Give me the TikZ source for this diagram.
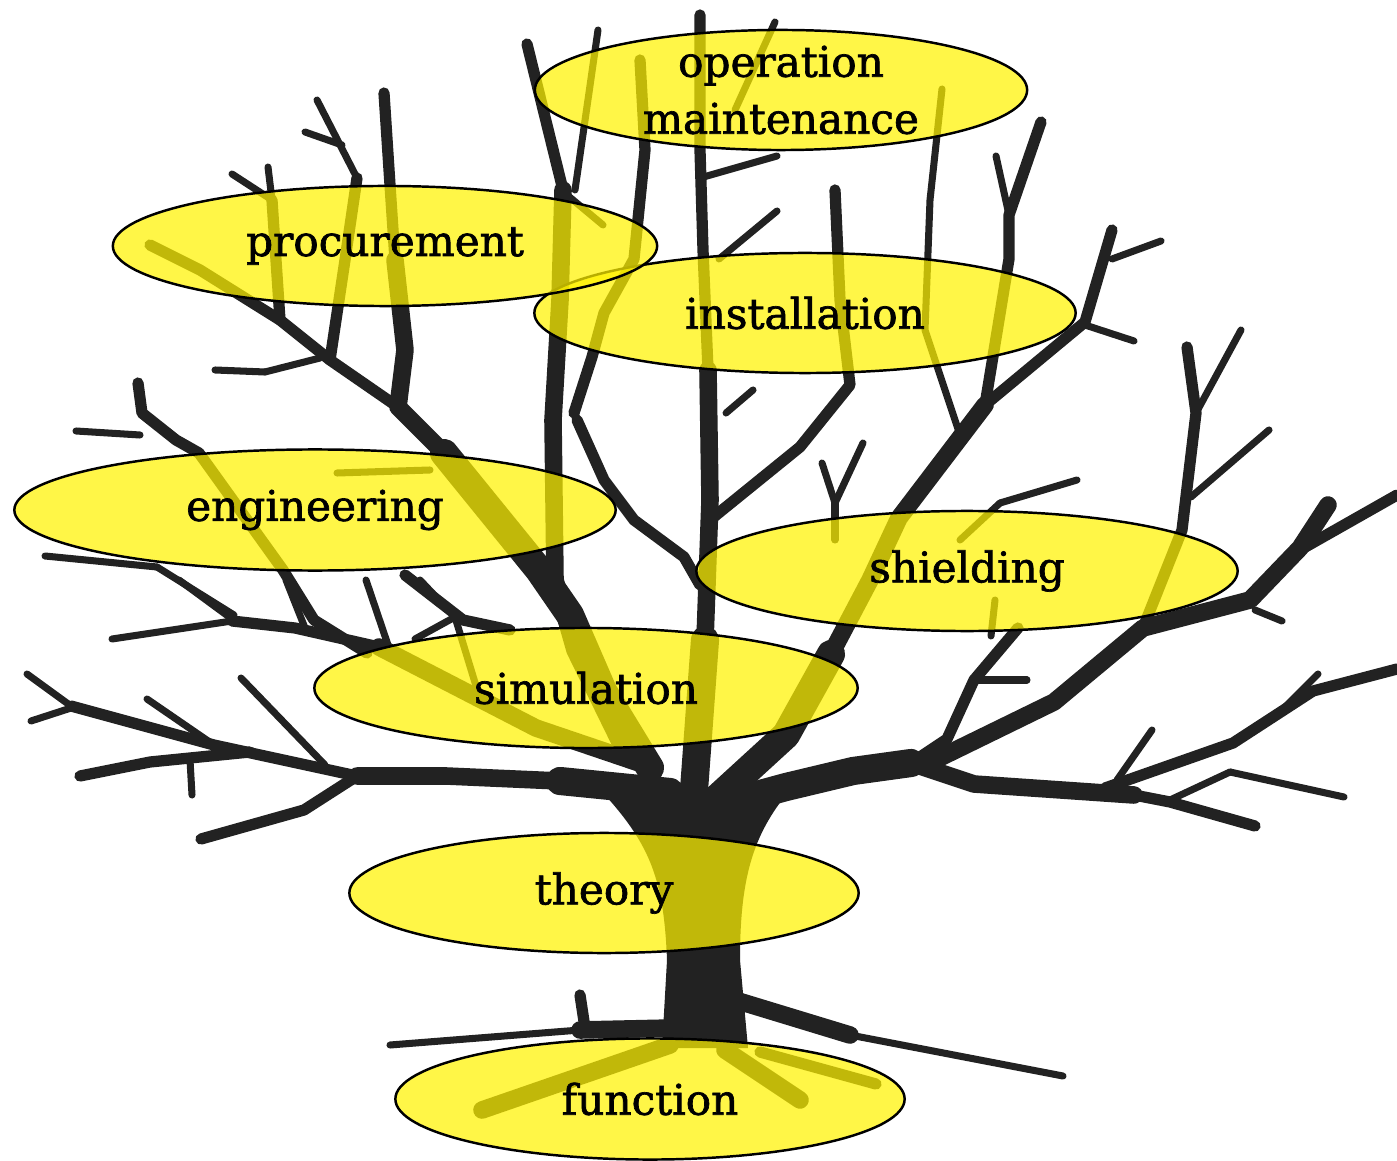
\documentclass[tikz,border=0pt]{standalone}
\usepackage{fontspec}
\setmainfont{DejaVu Serif}
\newfontfamily\topicfam[FakeBold=1.6]{DejaVu Serif}
\usetikzlibrary{shapes.geometric}
\definecolor{bark}{HTML}{222222}
\newcommand\topicfont{\topicfam\fontsize{12}{16.2}\selectfont}

\begin{document}
\begin{tikzpicture}[x=0.01cm, y=-0.01cm,
    wood/.style={draw=bark, line cap=round, line join=round},
    limb/.style={wood, line width=8pt},
    bough/.style={wood, line width=5pt},
    branch/.style={wood, line width=3.2pt},
    twig/.style={wood, line width=2pt},
    topic/.style={ellipse, draw=black, line width=0.7pt, fill=yellow, fill opacity=0.72,
        text opacity=1, inner sep=0pt, minimum height=1.2cm, font=\topicfont}]
    \useasboundingbox (0,0) rectangle (1397,1161);

    % trunk and roots
    \fill[bark] (662,1048) -- (667,960) .. controls (664,880) and (650,845) .. (605,795)
        -- (790,790) .. controls (752,835) and (740,880) .. (740,960) -- (748,1048) -- cycle;
    \draw[bough] (672,1028) -- (580,1030);
    \draw[twig] (580,1030) -- (390,1045);
    \draw[bough] (735,1000) -- (850,1035);
    \draw[twig] (850,1035) -- (1063,1076);
    \draw[branch] (585,1028) -- (580,995);
    \draw[bough] (670,1045) -- (482,1110);
    \draw[bough] (725,1050) -- (800,1100);
    \draw[branch] (760,1052) -- (876,1084);

    % left side
    \draw[limb] (670,792) -- (560,781);
    \draw[bough] (560,781) -- (446,776) -- (357,776);
    \draw[branch] (357,776) -- (214,745) -- (71,706);
    \draw[branch] (357,776) -- (304,810) -- (201,839);
    \draw[branch] (250,752) -- (150,762) -- (80,776);
    \draw[bough] (645,765) -- (536,728) -- (379,647);
    \draw[branch] (379,647) -- (295,628) -- (232,621);
    \draw[branch] (367,653) -- (314,620) -- (283,570) -- (199,453) -- (176,440) -- (142,413) -- (138,383);
    \draw[branch] (405,575) -- (463,620) -- (510,630);
    \draw[limb] (650,768) -- (603,691) -- (570,615) -- (539,570) -- (444,453);
    \draw[bough] (444,453) -- (398,407) -- (405,350) -- (395,260);
    \draw[branch] (395,260) -- (390,185) -- (384,93);
    \draw[branch] (398,407) -- (330,360) -- (280,320) -- (200,270) -- (150,245);
    \draw[branch] (330,360) -- (345,260) -- (357,178);
    \draw[branch] (280,320) -- (272,200);
    \draw[bough] (625,752) -- (575,650) -- (555,580) -- (553,420) -- (560,300) -- (563,190);
    \draw[branch] (563,190) -- (527,44);
    \draw[branch] (574,413) -- (592,357) -- (604,313) -- (634,259) -- (645,150) -- (640,60);
    \draw[branch] (577,420) -- (604,480) -- (634,520) -- (684,557) -- (700,585);

    % middle
    \draw[limb] (694,790) -- (705,640);
    \draw[bough] (705,640) -- (710,500) -- (708,370);
    \draw[branch] (708,370) -- (703,250) -- (700,150) -- (700,15);
    \draw[branch] (710,520) -- (800,447) -- (850,385) -- (840,300) -- (835,190);
    \draw[limb] (715,800) -- (786,735) -- (831,654);
    \draw[bough] (831,654) -- (870,580) -- (899,518) -- (985,405);
    \draw[branch] (985,405) -- (1009,259) -- (1009,215) -- (1041,122);
    \draw[branch] (985,405) -- (1085,322) -- (1112,230);
    \draw[twig] (960,435) -- (925,330) -- (930,200) -- (942,89);

    % right side
    \draw[limb] (720,805) -- (786,787) -- (853,771) -- (911,763);
    \draw[bough] (911,763) -- (974,784) -- (1134,795);
    \draw[branch] (1134,795) -- (1170,802) -- (1255,826);
    \draw[branch] (1105,788) -- (1233,743) -- (1313,691) -- (1397,669);
    \draw[bough] (925,765) -- (1054,702) -- (1143,628) -- (1250,600) -- (1300,548) -- (1328,505);
    \draw[branch] (1300,550) -- (1397,495);
    \draw[branch] (911,763) -- (947,739) -- (974,680) -- (1018,628);
    \draw[branch] (1143,628) -- (1182,530) -- (1196,413) -- (1187,347);

    \foreach \xa/\ya/\xb/\yb in {71/706/27/674, 71/708/31/721, 214/745/147/699, 325/765/241/678,
        190/760/192/795, 232/621/112/639, 232/619/179/580, 305/628/286/580, 388/645/366/580,
        480/699/455/617, 455/617/420/580, 455/617/415/639, 234/615/157/567, 157/567/45/556,
        430/470/337/473, 320/358/265/372, 265/372/215/370, 357/178/317/100, 342/145/305/132,
        272/200/232/174, 272/200/268/167, 140/435/76/431, 575/190/598/30, 567/195/603/225,
        726/413/753/390, 700/178/777/156, 719/259/777/211, 735/110/775/22,
        835/540/835/503, 835/503/822/463, 835/503/863/443, 960/540/1000/503, 1000/503/1077/480,
        1009/215/996/156, 1085/325/1134/341, 1112/259/1161/241, 1196/413/1241/330,
        1191/497/1269/430, 1255/610/1282/621, 974/680/1027/680, 991/636/995/600,
        1277/715/1318/674, 1117/780/1152/730, 1170/800/1230/772, 1230/772/1344/797}
        \draw[twig] (\xa,\ya) -- (\xb,\yb);

    % topics
    \node[topic, minimum width=4.92cm] (op) at (781,90) {};
    \node[align=center, font=\topicfont] (optext) at (op) {operation\\maintenance};
    \node[topic, minimum width=5.41cm] (inst) at (805,313) {installation};
    \node[topic, minimum width=5.44cm] (proc) at (385,246) {procurement};
    \node[topic, minimum width=6.01cm, minimum height=1.21cm] (eng) at (315,510) {engineering};
    \node[topic, minimum width=5.41cm] (shield) at (967,571) {shielding};
    \node[topic, minimum width=5.43cm] (sim) at (586,688) {simulation};
    \node[topic, minimum width=5.09cm] (theo) at (604,893) {theory};
    \node[topic, minimum width=5.09cm, minimum height=1.21cm] (func) at (650,1099) {function};
\end{tikzpicture}
\end{document}
